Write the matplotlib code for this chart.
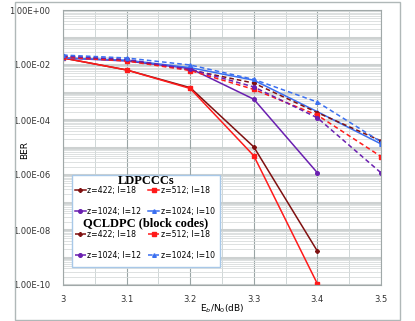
import matplotlib
matplotlib.use("Agg")
import matplotlib.pyplot as plt
from matplotlib.patches import Rectangle
import numpy as np

snr_db = [3.0, 3.1, 3.2, 3.3, 3.4, 3.5]

# LDPCCCs (solid)
ldpccc_422_i18 = [1.8e-2, 6.6e-3, 1.5e-3, 1.05e-5, 1.7e-9]
ldpccc_512_i18 = [1.8e-2, 6.6e-3, 1.4e-3, 5.0e-6, 1.1e-10]
ldpccc_1024_i12 = [1.8e-2, 1.4e-2, 7.5e-3, 5.7e-4, 1.2e-6]
ldpccc_1024_i10 = [1.8e-2, 1.5e-2, 8.0e-3, 2.8e-3, 2.0e-4, 1.35e-5]

# QCLDPC block codes (dashed)
qc_422_i18 = [2.1e-2, 1.5e-2, 6.6e-3, 2.2e-3, 1.85e-4, 1.75e-5]
qc_512_i18 = [1.9e-2, 1.4e-2, 6.3e-3, 1.3e-3, 1.5e-4, 4.7e-6]
qc_1024_i12 = [2.1e-2, 1.6e-2, 7.0e-3, 1.6e-3, 1.2e-4, 1.2e-6]
qc_1024_i10 = [2.3e-2, 1.8e-2, 1.0e-2, 3.0e-3, 4.5e-4, 1.6e-5]

labels = ["z=422; I=18", "z=512; I=18", "z=1024; I=12", "z=1024; I=10"]
colors = ["#7f1010", "#ff1a1a", "#6a1fb0", "#3a6ff0"]
markers = ["P", "s", "o", "^"]

fig = plt.figure(figsize=(4.15, 3.21), dpi=100)
ax = fig.add_axes([63 / 415, 1 - 285 / 321, 318 / 415, 275 / 321])

solid = [ldpccc_422_i18, ldpccc_512_i18, ldpccc_1024_i12, ldpccc_1024_i10]
dashed = [qc_422_i18, qc_512_i18, qc_1024_i12, qc_1024_i10]

solid_handles = []
dashed_handles = []
for vals, c, m, lab in zip(solid, colors, markers, labels):
    h, = ax.plot(snr_db[:len(vals)], vals, color=c, marker=m, ms=2.6, lw=1.1, label=lab)
    solid_handles.append(h)
for vals, c, m, lab in zip(dashed, colors, markers, labels):
    h, = ax.plot(snr_db[:len(vals)], vals, color=c, marker=m, ms=2.6, lw=1.1,
                 ls=(0, (3, 2)), label=lab)
    dashed_handles.append(h)

ax.set_yscale("log")
ax.set_xlim(3.0, 3.5)
ax.set_ylim(1e-10, 1.0)

ax.set_xticks(snr_db)
ax.set_xticklabels(["3", "3.1", "3.2", "3.3", "3.4", "3.5"])
ax.set_xticks(np.arange(3.05, 3.5, 0.1), minor=True)
yt = [10.0 ** e for e in range(0, -11, -2)]
ax.set_yticks(yt)
ax.set_yticklabels([f"1.00E{e:+03d}" for e in range(0, -11, -2)])
ax.yaxis.set_minor_locator(matplotlib.ticker.LogLocator(base=10, subs=np.arange(2, 10), numticks=20))
ax.yaxis.set_minor_formatter(matplotlib.ticker.NullFormatter())
ax.tick_params(which="both", length=0, labelsize=6, colors="#333333")
ax.tick_params(axis="y", pad=9)
ax.tick_params(axis="x", pad=7)

for e in range(-10, 1):
    ax.axhline(10.0 ** e, color="#cdd1d1", lw=2.2, zorder=0)
ax.grid(which="minor", axis="y", color="#d8dcdc", lw=0.6, zorder=0)
ax.grid(which="major", axis="x", color="#9aa5a5", lw=0.8, zorder=0)
ax.grid(which="minor", axis="x", color="#c8d0d0", lw=0.6, zorder=0)
for s in ax.spines.values():
    s.set_color("#a0a8a8")

ax.set_ylabel("BER", fontsize=6.5)
ax.yaxis.set_label_coords(-0.105, 0.49)
ax.set_xlabel("E$_b$/N$_0$(dB)", fontsize=6.5, labelpad=-1)

# legend box
fig.patches.append(Rectangle((72 / 415, 1 - 267 / 321), 148 / 415, 92 / 321,
                             transform=fig.transFigure, facecolor="white",
                             edgecolor="#a8c8e8", lw=1.0, zorder=5))
fig.text(146 / 415, 1 - 181 / 321, "LDPCCCs", family="Liberation Serif",
         fontweight="bold", fontsize=9, ha="center", va="center", zorder=6)
fig.text(146 / 415, 1 - 223 / 321, "QCLDPC (block codes)", family="Liberation Serif",
         fontweight="bold", fontsize=9, ha="center", va="center", zorder=6)

for handles, top in ((solid_handles, 186), (dashed_handles, 230)):
    leg = fig.legend(handles=[handles[0], handles[2], handles[1], handles[3]],
                     labels=[labels[0], labels[2], labels[1], labels[3]],
                     ncol=2, loc="upper left", bbox_to_anchor=(75 / 415, 1 - top / 321),
                     frameon=False, fontsize=5.6, handlelength=1.4, handletextpad=0.2,
                     columnspacing=0.9, labelspacing=1.55, borderaxespad=0, borderpad=0)
    leg.set_zorder(7)

# outer frame
fig.patches.append(Rectangle((15 / 415, 1 / 321), 385 / 415, 318 / 321,
                             transform=fig.transFigure, fill=False,
                             edgecolor="#b0b8b8", lw=1.0))

fig.savefig("out.png", dpi=100)
